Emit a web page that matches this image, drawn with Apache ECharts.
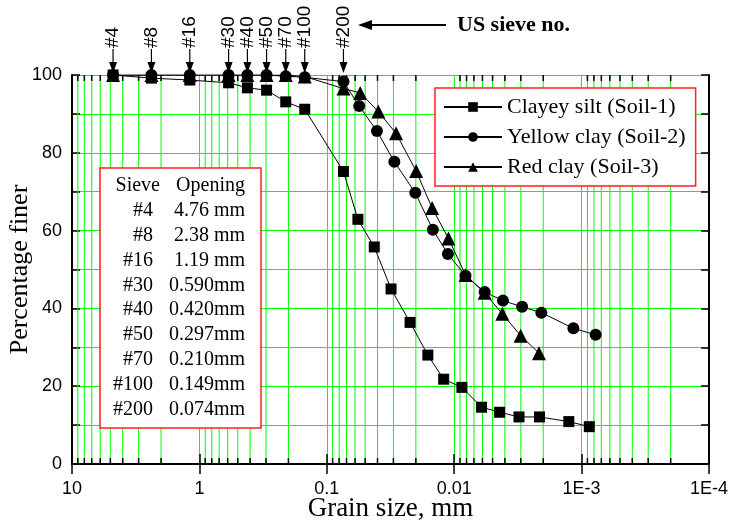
<!DOCTYPE html>
<html>
<head>
<meta charset="utf-8">
<script src="https://cdn.jsdelivr.net/npm/echarts@6/dist/echarts.min.js"></script>
<style>html,body{margin:0;padding:0;background:#fff;}#c{width:733px;height:524px;}</style>
</head>
<body>
<div id="c"></div>
<script>
// ---- data ----
const soil1Size = [4.76, 2.38, 1.19, 0.59, 0.42, 0.297, 0.21, 0.149, 0.074, 0.057, 0.0424, 0.0313, 0.0222, 0.0161, 0.0121, 0.0087, 0.0061, 0.0044, 0.0031, 0.00214, 0.00126, 0.00087];
const soil1Pct  = [100, 99.2, 98.7, 98.0, 96.7, 96.1, 93.1, 91.2, 75.2, 62.9, 55.8, 45.0, 36.4, 28.0, 21.8, 19.7, 14.6, 13.3, 12.1, 12.1, 10.9, 9.6];
const soil2Size = [4.76, 2.38, 1.19, 0.59, 0.42, 0.297, 0.21, 0.149, 0.074, 0.0557, 0.0404, 0.0295, 0.0202, 0.0147, 0.0112, 0.00815, 0.00577, 0.00414, 0.00293, 0.00207, 0.00116, 0.000776];
const soil2Pct  = [100, 100, 100, 100, 100, 100, 99.7, 99.4, 98.3, 92.0, 85.6, 77.7, 69.7, 60.2, 54.0, 48.4, 44.2, 42.0, 40.4, 38.9, 34.9, 33.2];
const soil3Size = [4.76, 2.38, 1.19, 0.59, 0.42, 0.297, 0.21, 0.149, 0.074, 0.0547, 0.0394, 0.0286, 0.0199, 0.0149, 0.0111, 0.00815, 0.00577, 0.00419, 0.00301, 0.00216];
const soil3Pct  = [100, 100, 100, 100, 100, 100, 100, 99.6, 96.5, 95.4, 90.6, 85.0, 75.3, 65.8, 58.0, 48.6, 44.0, 38.6, 33.0, 28.5];
const seriesNames = ['Clayey silt (Soil-1)', 'Yellow clay (Soil-2)', 'Red clay (Soil-3)'];

const sieveNos = ['#4', '#8', '#16', '#30', '#40', '#50', '#70', '#100', '#200'];
const sieveOpen = [4.76, 2.38, 1.19, 0.590, 0.420, 0.297, 0.210, 0.149, 0.074];
const sieveOpenText = ['4.76 mm', '2.38 mm', '1.19 mm', '0.590mm', '0.420mm', '0.297mm', '0.210mm', '0.149mm', '0.074mm'];

const xTickLabels = {'1': '10', '0': '1', '-1': '0.1', '-2': '0.01', '-3': '1E-3', '-4': '1E-4'};
const xMin = 0.0001, xMax = 10;
const yTicks = [0, 20, 40, 60, 80, 100];

// minor log grid values (2..9 x 10^k)
const minorVals = [];
for (let k = -4; k <= 0; k++) {
  for (let m = 2; m <= 9; m++) minorVals.push([m * Math.pow(10, k)]);
}

const SERIF = '"Liberation Serif", "Times New Roman", serif';
const SANS = '"Liberation Sans", Arial, sans-serif';
const GREEN = '#00ff00';
const RED = '#ff2020';

function pairs(xs, ys) { return xs.map((x, i) => [x, ys[i]]); }

const chart = echarts.init(document.getElementById('c'), null, {renderer: 'canvas'});

const lineBase = {
  type: 'line', xAxisIndex: 0, yAxisIndex: 0, z: 5,
  lineStyle: {color: '#000', width: 1},
  itemStyle: {color: '#000'},
  emphasis: {disabled: true},
  animation: false
};

const tableX = 100, tableY = 168, TFS = 20;
const tableChildren = [
  {type: 'rect', z: 20, shape: {x: tableX, y: tableY, width: 161, height: 260}, style: {fill: '#fff', stroke: RED, lineWidth: 1.5}},
  {type: 'text', z: 21, x: tableX + 60, y: tableY + 18, style: {text: 'Sieve', fontFamily: SERIF, fontSize: TFS, fill: '#000', align: 'right', verticalAlign: 'middle'}},
  {type: 'text', z: 21, x: tableX + 145, y: tableY + 18, style: {text: 'Opening', fontFamily: SERIF, fontSize: TFS, fill: '#000', align: 'right', verticalAlign: 'middle'}}
].concat(sieveNos.map((s, i) => ({
  type: 'text', z: 21, x: tableX + 53, y: tableY + 43 + i * 24.8,
  style: {text: s, fontFamily: SERIF, fontSize: TFS, fill: '#000', align: 'right', verticalAlign: 'middle'}
}))).concat(sieveOpenText.map((s, i) => ({
  type: 'text', z: 21, x: tableX + 145, y: tableY + 43 + i * 24.8,
  style: {text: s, fontFamily: SERIF, fontSize: TFS, fill: '#000', align: 'right', verticalAlign: 'middle'}
})));

chart.setOption({
  animation: false,
  backgroundColor: '#fff',
  grid: {left: 72, right: 24, top: 75, bottom: 60, containLabel: false, outerBoundsMode: 'none'},
  legend: {
    data: seriesNames,
    orient: 'vertical',
    left: 435, top: 88,
    padding: [8, 10, 8, 8],
    itemGap: 8,
    itemWidth: 58,
    itemHeight: 12,
    z: 30,
    backgroundColor: '#fff',
    borderColor: RED,
    borderWidth: 1.5,
    textStyle: {fontFamily: SERIF, fontSize: 22, color: '#000'},
    selectedMode: false
  },
  xAxis: [{
    type: 'log', logBase: 10, min: xMin, max: xMax, inverse: true, position: 'bottom',
    splitNumber: 5,
    name: 'Grain size, mm', nameLocation: 'middle', nameGap: 31, nameMoveOverlap: false,
    nameTextStyle: {fontFamily: SERIF, fontSize: 27, color: '#000'},
    axisLine: {lineStyle: {color: '#000', width: 2}},
    axisTick: {inside: true, length: 10, lineStyle: {color: '#000', width: 1.5}},
    axisLabel: {
      fontFamily: SANS, fontSize: 18, color: '#000', margin: 16,
      formatter: v => xTickLabels[String(Math.round(Math.log10(v)))] || ''
    },
    splitLine: {show: true, lineStyle: {color: GREEN, width: 1}},
    minorTick: {show: false}
  }, {
    type: 'log', logBase: 10, min: xMin, max: xMax, inverse: true, position: 'top',
    splitNumber: 5,
    axisLine: {lineStyle: {color: '#000', width: 2}},
    axisTick: {inside: true, length: 10, lineStyle: {color: '#000', width: 1.5}},
    axisLabel: {show: false},
    splitLine: {show: false}
  }],
  yAxis: [{
    type: 'value', min: 0, max: 100, interval: 10, position: 'left',
    name: 'Percentage finer', nameLocation: 'middle', nameGap: 39, nameMoveOverlap: false,
    nameTextStyle: {fontFamily: SERIF, fontSize: 26, color: '#000'},
    axisLine: {show: true, lineStyle: {color: '#000', width: 2}},
    axisTick: {inside: true, length: 8, lineStyle: {color: '#000', width: 1.5}},
    axisLabel: {
      fontFamily: SANS, fontSize: 18, color: '#000', margin: 10,
      formatter: v => yTicks.indexOf(v) >= 0 ? String(v) : ''
    },
    splitLine: {show: true, lineStyle: {color: GREEN, width: 1}}
  }, {
    type: 'value', min: 0, max: 100, interval: 10, position: 'right',
    axisLine: {show: true, lineStyle: {color: '#000', width: 2}},
    axisTick: {inside: true, length: 8, lineStyle: {color: '#000', width: 1.5}},
    axisLabel: {show: false},
    splitLine: {show: false}
  }],
  series: [
    {
      // minor log grid lines + minor ticks on bottom and top axes
      type: 'custom', xAxisIndex: 0, yAxisIndex: 0, z: 1, silent: true,
      data: minorVals,
      encode: {x: 0},
      renderItem: function (params, api) {
        const b = api.coord([api.value(0), 0]);
        const t = api.coord([api.value(0), 100]);
        return {
          type: 'group',
          children: [
            {type: 'line', shape: {x1: b[0], y1: b[1], x2: t[0], y2: t[1]}, style: {stroke: GREEN, lineWidth: 1}},
            {type: 'line', shape: {x1: b[0], y1: b[1], x2: b[0], y2: b[1] - 6}, style: {stroke: '#000', lineWidth: 1.5}},
            {type: 'line', shape: {x1: t[0], y1: t[1], x2: t[0], y2: t[1] + 6}, style: {stroke: '#000', lineWidth: 1.5}}
          ]
        };
      }
    },
    Object.assign({}, lineBase, {name: seriesNames[0], symbol: 'rect', symbolSize: 11, data: pairs(soil1Size, soil1Pct)}),
    Object.assign({}, lineBase, {name: seriesNames[1], symbol: 'circle', symbolSize: 12, data: pairs(soil2Size, soil2Pct)}),
    Object.assign({}, lineBase, {name: seriesNames[2], symbol: 'triangle', symbolSize: 14, data: pairs(soil3Size, soil3Pct)}),
    {
      // US sieve arrows on top axis
      type: 'custom', xAxisIndex: 0, yAxisIndex: 0, z: 10, silent: true, clip: false,
      data: sieveOpen.map((v, i) => [v, i]),
      encode: {x: 0},
      renderItem: function (params, api) {
        const p = api.coord([api.value(0), 100]);
        const x = p[0], y = p[1];
        const lbl = sieveNos[api.value(1)];
        return {
          type: 'group',
          children: [
            {type: 'line', shape: {x1: x, y1: y - 26, x2: x, y2: y - 10}, style: {stroke: '#000', lineWidth: 1.2}},
            {type: 'polygon', shape: {points: [[x - 4, y - 13], [x + 4, y - 13], [x, y - 2]]}, style: {fill: '#000'}},
            {type: 'text', x: x, y: y - 27, rotation: Math.PI / 2,
             style: {text: lbl, fontFamily: SANS, fontSize: 19, fill: '#000', align: 'left', verticalAlign: 'middle'}}
          ]
        };
      }
    }
  ],
  graphic: [
    {type: 'line', shape: {x1: 446, y1: 25, x2: 368, y2: 25}, style: {stroke: '#000', lineWidth: 2}, z: 20},
    {type: 'polygon', shape: {points: [[358, 25], [372, 20], [372, 30]]}, style: {fill: '#000'}, z: 20},
    {type: 'text', x: 457, y: 25, style: {text: 'US sieve no.', fontFamily: SERIF, fontWeight: 'bold', fontSize: 22, fill: '#000', verticalAlign: 'middle'}, z: 20}
  ].concat(tableChildren)
});
</script>
</body>
</html>
